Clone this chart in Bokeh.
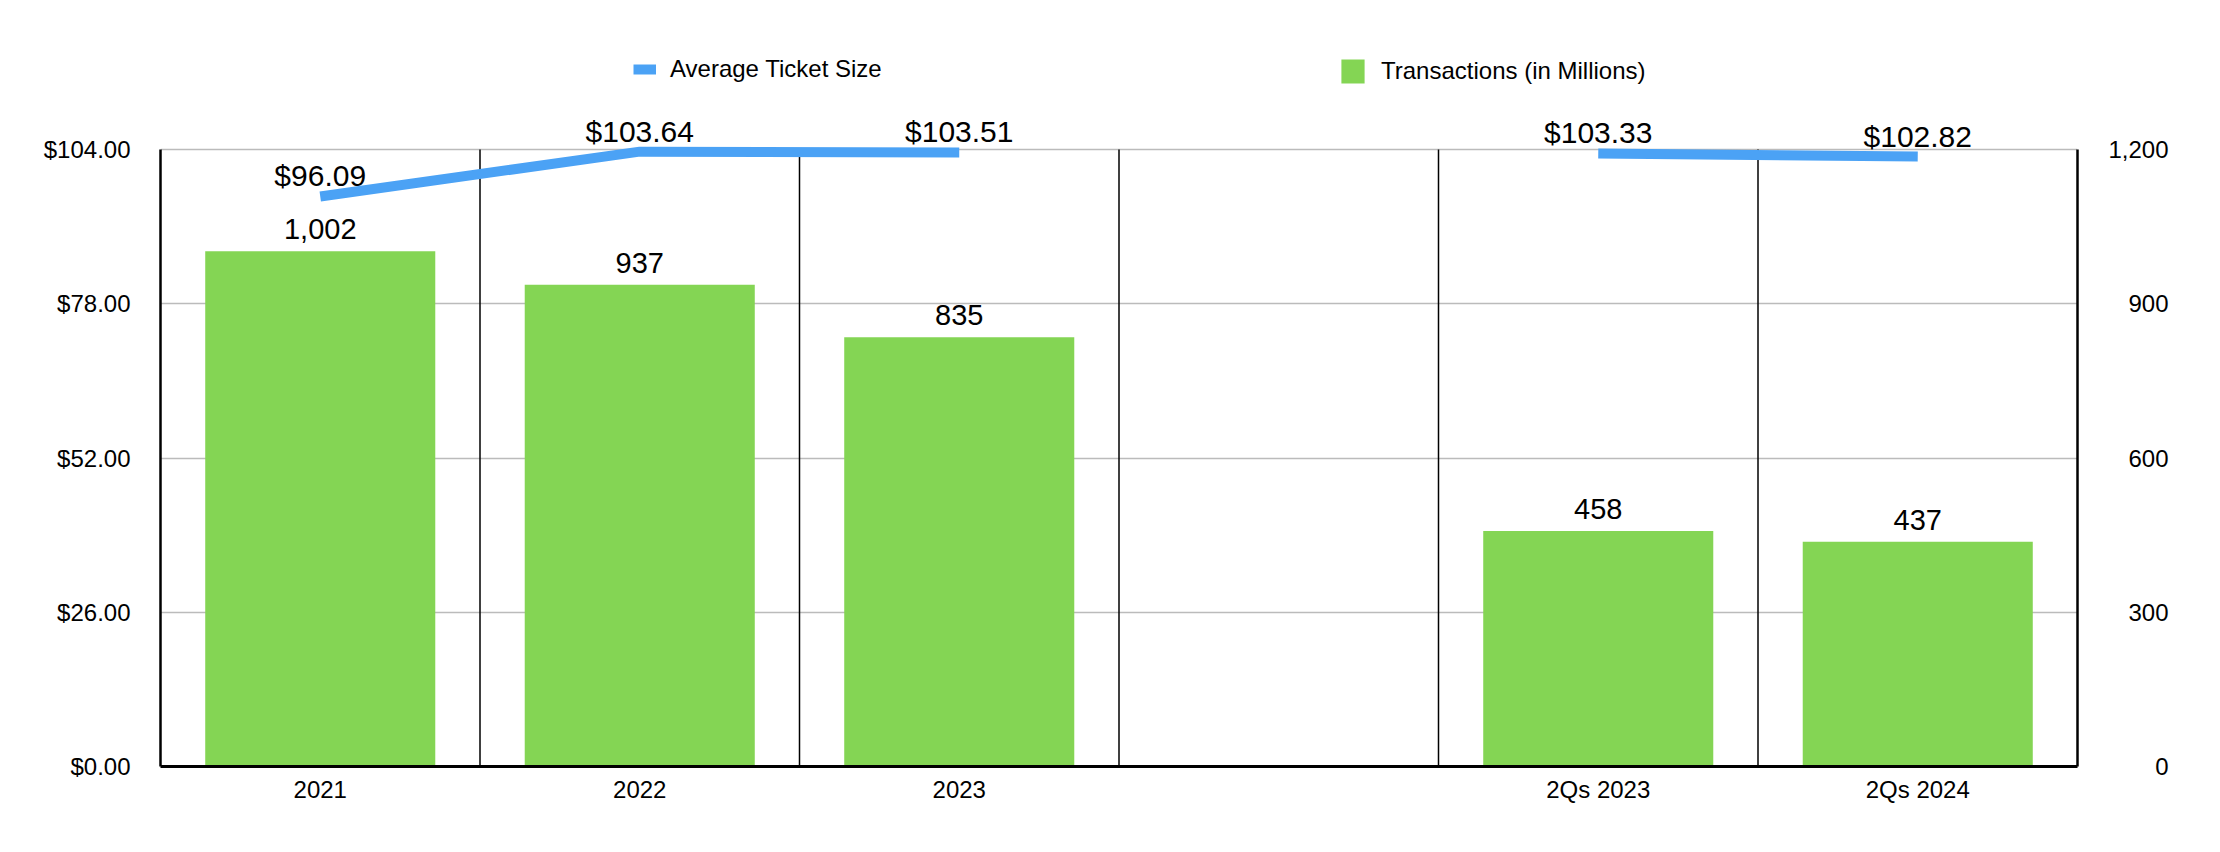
from bokeh.plotting import figure
from bokeh.models import (FactorRange, Range1d, LinearAxis, FixedTicker, ColumnDataSource,
                          LabelSet, Legend, LegendItem, NumeralTickFormatter, CustomJSTickFormatter)
from bokeh.core.properties import value
from bokeh.embed import file_html
from bokeh.resources import INLINE

categories = ["2021", "2022", "2023", " ", "2Qs 2023", "2Qs 2024"]
ticket = [96.09, 103.64, 103.51, float("nan"), 103.33, 102.82]
ticket_labels = ["$96.09", "$103.64", "$103.51", "", "$103.33", "$102.82"]
bar_categories = ["2021", "2022", "2023", "2Qs 2023", "2Qs 2024"]
transactions = [1002, 937, 835, 458, 437]
tx_labels = ["1,002", "937", "835", "458", "437"]
left_ticks = [0, 26, 52, 78, 104]
right_ticks = [0, 300, 600, 900, 1200]
left_max = 104
right_max = 1200

FONT = "Liberation Sans"
GREEN = "#84D554"
BLUE = "#4BA2F5"

W, H = 2220, 852
FRAME_L, FRAME_R = 160, 2077
AXIS_TOP, FRAME_B = 149, 766
FRAME_T = 20
ext = (FRAME_B - FRAME_T) / (FRAME_B - AXIS_TOP)

p = figure(width=W, height=H, x_range=FactorRange(*categories),
           y_range=Range1d(0, left_max * ext), output_backend="svg", toolbar_location=None,
           min_border_left=FRAME_L, min_border_right=W - FRAME_R,
           min_border_top=FRAME_T, min_border_bottom=H - FRAME_B)
p.extra_y_ranges = {"tx": Range1d(0, right_max * ext)}
p.outline_line_color = None
p.background_fill_color = "white"

bar_src = ColumnDataSource(dict(x=bar_categories, top=transactions, lab=tx_labels))
line_src = ColumnDataSource(dict(x=categories, y=ticket))

bars = p.vbar(x="x", top="top", width=0.72, source=bar_src, y_range_name="tx",
              fill_color=GREEN, line_color=None)

bounds = list(range(1, len(categories)))
p.segment(x0=bounds, x1=bounds, y0=[0] * len(bounds), y1=[left_max] * len(bounds),
          line_color="black", line_width=1.5)

line = p.line(x="x", y="y", source=line_src, line_color=BLUE, line_width=10)

p.add_layout(LabelSet(x="x", y="top", text="lab", source=bar_src, y_range_name="tx",
                      text_align="center", text_baseline="alphabetic", y_offset=12,
                      text_font=value(FONT), text_font_size="29px", text_color="black"))
lab_src = ColumnDataSource(dict(x=[c for c, l in zip(categories, ticket_labels) if l],
                                y=[v for v, l in zip(ticket, ticket_labels) if l],
                                lab=[l for l in ticket_labels if l]))
p.add_layout(LabelSet(x="x", y="y", text="lab", source=lab_src,
                      text_align="center", text_baseline="alphabetic", y_offset=10,
                      text_font=value(FONT), text_font_size="30px", text_color="black"))

# axes
xa = p.xaxis[0]
xa.major_tick_line_color = None
xa.minor_tick_line_color = None
xa.major_tick_out = 0
xa.major_tick_in = 0
xa.axis_line_color = "black"
xa.axis_line_width = 3
xa.major_label_text_font = FONT
xa.major_label_text_font_size = "24px"
xa.major_label_text_color = "black"
xa.major_label_standoff = 9
p.xgrid.grid_line_color = None

ly = p.yaxis[0]
ly.ticker = FixedTicker(ticks=left_ticks)
ly.formatter = NumeralTickFormatter(format="$0,0.00")
ly.bounds = (0, left_max)
ly.major_tick_line_color = None
ly.minor_tick_line_color = None
ly.major_tick_out = 0
ly.major_tick_in = 0
ly.axis_line_color = "black"
ly.axis_line_width = 2.5
ly.major_label_text_font = FONT
ly.major_label_text_font_size = "24px"
ly.major_label_text_color = "black"
ly.major_label_standoff = 30

pad_fmt = CustomJSTickFormatter(code="""
const s = Math.round(tick).toString().replace(/\\B(?=(\\d{3})+(?!\\d))/g, ",");
const ref = "1,200";
const dd = (ref.match(/\\d/g) || []).length - (s.match(/\\d/g) || []).length;
const dc = (ref.match(/,/g) || []).length - (s.match(/,/g) || []).length;
return "\\u2007".repeat(Math.max(dd, 0)) + "\\u2008".repeat(Math.max(dc, 0)) + s;
""")
ry = LinearAxis(y_range_name="tx", ticker=FixedTicker(ticks=right_ticks), formatter=pad_fmt)
ry.bounds = (0, right_max)
ry.major_tick_line_color = None
ry.minor_tick_line_color = None
ry.major_tick_out = 0
ry.major_tick_in = 0
ry.axis_line_color = "black"
ry.axis_line_width = 2.5
ry.major_label_text_font = FONT
ry.major_label_text_font_size = "24px"
ry.major_label_text_color = "black"
ry.major_label_standoff = 31
p.add_layout(ry, "right")

p.ygrid.grid_line_color = "#BBBBBB"
p.ygrid.grid_line_width = 1.5

common = dict(orientation="horizontal", padding=0, margin=0, border_line_color=None,
              background_fill_alpha=0, label_text_font=FONT, label_text_font_size="24px",
              label_text_color="black", label_standoff=14)
leg1 = Legend(items=[LegendItem(label="Average Ticket Size", renderers=[line])],
              location=(473, 683), glyph_width=23, glyph_height=24, label_height=24, **common)
leg2 = Legend(items=[LegendItem(label="Transactions (in Millions)", renderers=[bars])],
              location=(1178, 680), glyph_width=29, glyph_height=30, label_height=30, **common)
p.add_layout(leg1)
p.add_layout(leg2)

open("out.html", "w").write(file_html(p, INLINE))
